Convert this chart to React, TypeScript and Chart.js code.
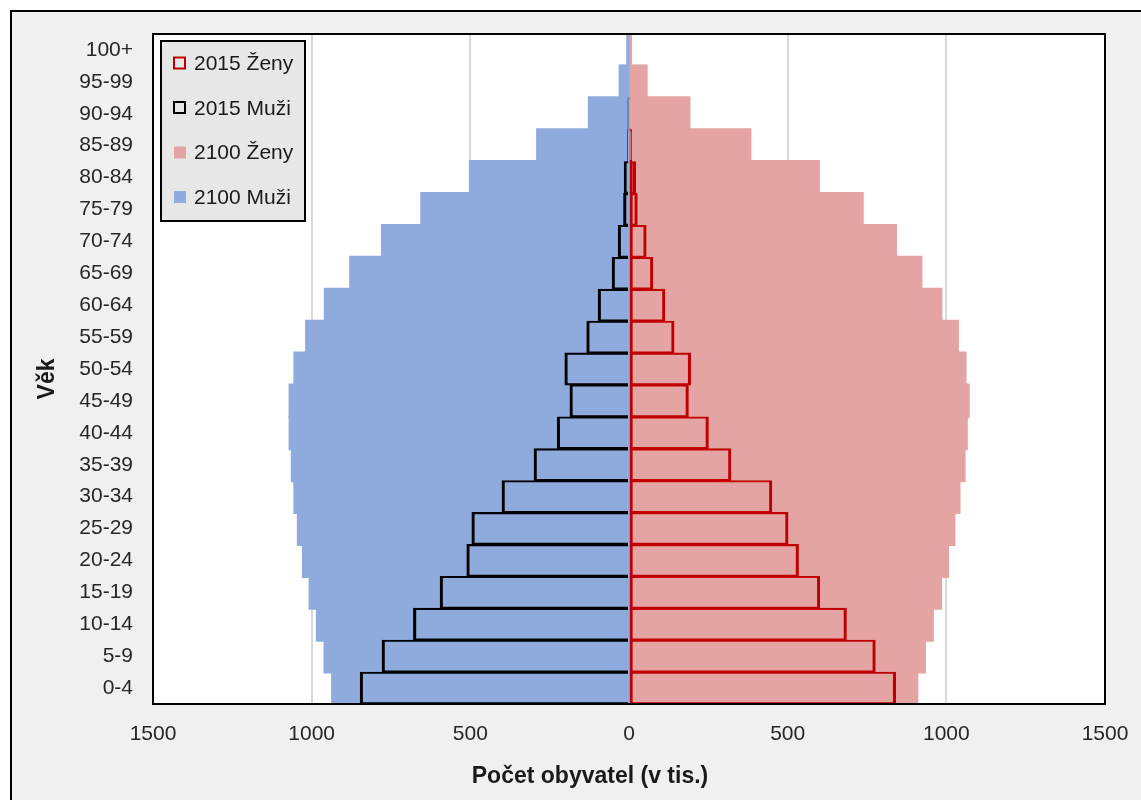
import React, { useEffect, useRef } from "react";
import { Chart, registerables } from "chart.js";

Chart.register(...registerables);

const categories = ["0-4", "5-9", "10-14", "15-19", "20-24", "25-29", "30-34", "35-39", "40-44", "45-49", "50-54", "55-59", "60-64", "65-69", "70-74", "75-79", "80-84", "85-89", "90-94", "95-99", "100+"];

const zeny2015 = [840, 776, 685, 601, 534, 501, 450, 321, 250, 187, 194, 142, 113, 75, 54, 26, 21, 8, 3, 0, 0];
const muzi2015 = [847, 778, 679, 595, 511, 495, 400, 299, 226, 186, 202, 133, 97, 53, 34, 17, 15, 4, 2, 0, 0];
const zeny2100 = [907, 931, 956, 982, 1004, 1024, 1040, 1056, 1063, 1069, 1059, 1035, 983, 920, 840, 735, 597, 381, 189, 54, 5];
const muzi2100 = [934, 958, 982, 1005, 1026, 1042, 1053, 1061, 1068, 1068, 1053, 1016, 957, 877, 777, 653, 500, 288, 125, 28, 4];

const seriesLabels = ["2015 Ženy", "2015 Muži", "2100 Ženy", "2100 Muži"];
const xMin = -1500;
const xMax = 1500;
const xStep = 500;
const yTitle = "Věk";
const xTitle = "Počet obyvatel (v tis.)";

const FONT = "'Liberation Sans', Arial, sans-serif";
const TEXT = "#262626";
const zenyBorder = { top: 1.2, bottom: 1.2, left: 2.2, right: 2.2 };
const muziBorder = { top: 1.2, bottom: 1.2, left: 2.2, right: 0 };

const decorPlugin = {
  id: "decor",
  beforeDraw(chart: any) {
    const { ctx, chartArea: a } = chart;
    ctx.save();
    ctx.fillStyle = "#ffffff";
    ctx.fillRect(a.left, a.top, a.right - a.left, a.bottom - a.top);
    ctx.restore();
  },
  afterDatasetsDraw(chart: any) {
    const { ctx, chartArea: a } = chart;
    ctx.save();
    ctx.strokeStyle = "#000000";
    ctx.lineWidth = 2;
    ctx.strokeRect(a.left, a.top, a.right - a.left, a.bottom - a.top);

    // legend box inside plot
    const bx = a.left + 8;
    const by = a.top + 7;
    const bw = 144;
    const bh = 180;
    ctx.fillStyle = "#e7e7e7";
    ctx.fillRect(bx, by, bw, bh);
    ctx.strokeStyle = "#000000";
    ctx.lineWidth = 2;
    ctx.strokeRect(bx, by, bw, bh);
    ctx.font = `21px ${FONT}`;
    ctx.textBaseline = "middle";
    ctx.textAlign = "left";
    chart.data.datasets.forEach((ds: any, i: number) => {
      const cy = by + 22.5 + i * 44.5;
      const mx = bx + 12;
      const outlined = ds.backgroundColor === "rgba(0,0,0,0)";
      if (outlined) {
        ctx.strokeStyle = ds.borderColor;
        ctx.lineWidth = 2;
        ctx.strokeRect(mx + 1, cy - 6, 11, 11);
      } else {
        ctx.fillStyle = ds.backgroundColor;
        ctx.fillRect(mx + 1, cy - 6, 12, 12);
      }
      ctx.fillStyle = "#1a1a1a";
      ctx.fillText(ds.label, mx + 21, cy + 1);
    });
    ctx.restore();
  },
  afterDraw(chart: any) {
    const { ctx, chartArea: a } = chart;
    ctx.save();
    ctx.fillStyle = "#1a1a1a";
    ctx.font = `bold 23px ${FONT}`;
    ctx.textAlign = "center";
    ctx.textBaseline = "middle";
    ctx.fillText(xTitle, (a.left + a.right) / 2 - 39, 777);
    ctx.translate(a.left - 105, (a.top + a.bottom) / 2 + 10);
    ctx.rotate(-Math.PI / 2);
    ctx.fillText(yTitle, 0, 0);
    ctx.restore();
  },
};

export default function App() {
  const ref = useRef<HTMLCanvasElement>(null);

  useEffect(() => {
    if (!ref.current) return;
    const chart = new Chart(ref.current, {
      type: "bar",
      data: {
        labels: categories,
        datasets: [
          {
            label: seriesLabels[0],
            data: zeny2015,
            backgroundColor: "rgba(0,0,0,0)",
            borderColor: "#C00000",
            borderWidth: zenyBorder,
            borderSkipped: false,
            inflateAmount: 0.45,
            order: 0,
          },
          {
            label: seriesLabels[1],
            data: muzi2015.map((v) => -v),
            backgroundColor: "rgba(0,0,0,0)",
            borderColor: "#000000",
            borderWidth: muziBorder,
            borderSkipped: false,
            inflateAmount: 0.45,
            order: 1,
          },
          {
            label: seriesLabels[2],
            data: zeny2100,
            backgroundColor: "#E4A4A4",
            borderWidth: 0,
            inflateAmount: 1.5,
            order: 3,
          },
          {
            label: seriesLabels[3],
            data: muzi2100.map((v) => -v),
            backgroundColor: "#8FAADC",
            borderWidth: 0,
            inflateAmount: 1.5,
            order: 2,
          },
        ] as any,
      },
      options: {
        indexAxis: "y",
        responsive: false,
        maintainAspectRatio: false,
        animation: false,
        devicePixelRatio: 1,
        datasets: {
          bar: { grouped: false, barPercentage: 1, categoryPercentage: 1 },
        } as any,
        layout: { padding: { top: 34, right: 36, left: 0, bottom: 0 } },
        plugins: { legend: { display: false }, tooltip: { enabled: false }, title: { display: false } },
        scales: {
          x: {
            type: "linear",
            min: xMin,
            max: xMax,
            ticks: {
              stepSize: xStep,
              padding: 18,
              color: TEXT,
              font: { family: FONT, size: 21 },
              callback: (v: any) => String(Math.abs(Number(v))),
            },
            grid: {
              color: "#d9d9d9",
              lineWidth: 2,
              drawTicks: false,
              z: -1,
            },
            border: { display: false },
            afterFit: (s: any) => {
              s.height = 96;
              s.paddingLeft = 0;
              s.paddingRight = 0;
            },
          },
          y: {
            type: "category",
            reverse: true,
            grid: { display: false, drawTicks: false },
            border: { display: false },
            ticks: {
              padding: 20,
              color: TEXT,
              font: { family: FONT, size: 21 },
              autoSkip: false,
            },
            afterFit: (s: any) => {
              s.width = 153;
              s.paddingTop = 0;
              s.paddingBottom = 0;
            },
          },
        },
      } as any,
      plugins: [decorPlugin],
    });
    return () => chart.destroy();
  }, []);

  return (
    <div style={{ position: "absolute", left: 0, top: 0, width: 1141, height: 800, overflow: "hidden", background: "#ffffff" }}>
      <div
        style={{
          position: "absolute",
          left: 10,
          top: 10,
          width: 1300,
          height: 1000,
          border: "2.5px solid #000",
          background: "#f0f0f0",
        }}
      />
      <canvas ref={ref} width={1141} height={800} style={{ position: "absolute", left: 0, top: 0, width: 1141, height: 800 }} />
    </div>
  );
}
